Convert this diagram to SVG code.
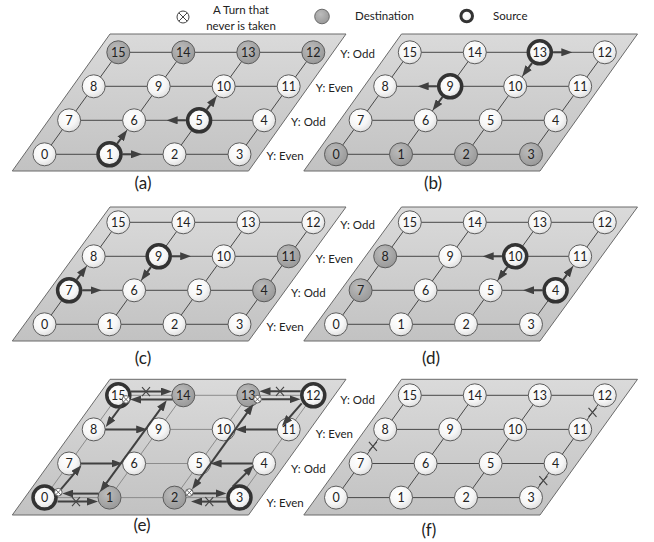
<svg xmlns="http://www.w3.org/2000/svg" width="654" height="542" viewBox="0 0 654 542">
<defs>
<style>
.pg{fill:url(#pgG);stroke:#6a6a6a;stroke-width:1}
.grid line{stroke:#484848;stroke-width:1}
.gridl line{stroke:#8c8c8c;stroke-width:1}
.nd circle{fill:url(#nG);stroke:#5c5c5c;stroke-width:1}
.dst circle{fill:url(#dG)}
.src circle{stroke:#333;stroke-width:3.5}
.nd text{font-family:Lato,"Liberation Sans",sans-serif;font-size:12.5px;fill:#222;text-anchor:middle}
.arr line{stroke:#404040;stroke-width:2;marker-end:url(#ah)}
.arr line.both{marker-start:url(#ah)}
.lbl{font-family:Lato,"Liberation Sans",sans-serif;font-size:11.5px;fill:#222}
.cap{font-family:Lato,"Liberation Sans",sans-serif;font-size:17px;fill:#222;text-anchor:middle}
.xm{stroke:#444;stroke-width:1.1;fill:none}
</style>
<linearGradient id="pgG" x1="0" y1="0" x2="0" y2="1"><stop offset="0" stop-color="#dadada"/><stop offset="1" stop-color="#c2c2c2"/></linearGradient>
<radialGradient id="nG" cx="0.4" cy="0.35" r="0.7"><stop offset="0" stop-color="#ffffff"/><stop offset="0.6" stop-color="#f6f6f6"/><stop offset="1" stop-color="#dcdcdc"/></radialGradient>
<radialGradient id="dG" cx="0.4" cy="0.35" r="0.7"><stop offset="0" stop-color="#bcbcbc"/><stop offset="1" stop-color="#979797"/></radialGradient>
<marker id="ah" viewBox="0 0 11 8" refX="5" refY="4" markerWidth="11" markerHeight="8" markerUnits="userSpaceOnUse" orient="auto-start-reverse"><path d="M0,0 L11,4 L0,8 z" fill="#404040"/></marker>
<g id="ot"><circle r="3.8" fill="#fff" stroke="#555" stroke-width="0.9"/><path d="M-2.7,-2.7L2.7,2.7M-2.7,2.7L2.7,-2.7" stroke="#555" stroke-width="0.9"/></g>
<path id="xmk" class="xm" d="M-4,-4.5L4,4.5M-4,4.5L4,-4.5"/>
</defs>
<rect width="654" height="542" fill="#fff"/>

<g id="legend">
<g id="legend-turn"><circle cx="183" cy="17" r="6" fill="#fff" stroke="#444"/><path d="M178.8,12.8L187.2,21.2M178.8,21.2L187.2,12.8" stroke="#444" stroke-width="1"/></g>
<text class="lbl" x="241" y="14" text-anchor="middle">A Turn that</text>
<text class="lbl" x="241" y="30" text-anchor="middle">never is taken</text>
<g id="legend-dest"><circle cx="322" cy="16.5" r="7.3" fill="url(#dG)" stroke="#6a6a6a"/></g>
<text class="lbl" x="355" y="20">Destination</text>
<g id="legend-src"><circle cx="466.7" cy="16" r="5.8" fill="url(#nG)" stroke="#333" stroke-width="3"/></g>
<text class="lbl" x="493" y="20">Source</text>
</g>

<!-- ============ PANEL A ============ -->
<g id="panel-a">
<polygon class="pg" points="12.3,171 248.5,171 346,34 110,34"/>
<g id="a-links" class="grid">
<line x1="44.5" y1="154.3" x2="239.5" y2="154.3"/><line x1="69.1" y1="120.3" x2="264.1" y2="120.3"/>
<line x1="93.7" y1="86.3" x2="288.7" y2="86.3"/><line x1="118.3" y1="52.3" x2="313.3" y2="52.3"/>
<line x1="44.5" y1="154.3" x2="118.3" y2="52.3"/><line x1="109.5" y1="154.3" x2="183.3" y2="52.3"/>
<line x1="174.5" y1="154.3" x2="248.3" y2="52.3"/><line x1="239.5" y1="154.3" x2="313.3" y2="52.3"/>
</g>
<g id="a-n0" class="nd"><circle cx="44.5" cy="154.3" r="11.5"/><text x="44.5" y="158.7">0</text></g>
<g id="a-n1" class="nd src"><circle cx="109.5" cy="154.3" r="11.5"/><text x="109.5" y="158.7">1</text></g>
<g id="a-n2" class="nd"><circle cx="174.5" cy="154.3" r="11.5"/><text x="174.5" y="158.7">2</text></g>
<g id="a-n3" class="nd"><circle cx="239.5" cy="154.3" r="11.5"/><text x="239.5" y="158.7">3</text></g>
<g id="a-n7" class="nd"><circle cx="69.1" cy="120.3" r="11.5"/><text x="69.1" y="124.7">7</text></g>
<g id="a-n6" class="nd"><circle cx="134.1" cy="120.3" r="11.5"/><text x="134.1" y="124.7">6</text></g>
<g id="a-n5" class="nd src"><circle cx="199.1" cy="120.3" r="11.5"/><text x="199.1" y="124.7">5</text></g>
<g id="a-n4" class="nd"><circle cx="264.1" cy="120.3" r="11.5"/><text x="264.1" y="124.7">4</text></g>
<g id="a-n8" class="nd"><circle cx="93.7" cy="86.3" r="11.5"/><text x="93.7" y="90.7">8</text></g>
<g id="a-n9" class="nd"><circle cx="158.7" cy="86.3" r="11.5"/><text x="158.7" y="90.7">9</text></g>
<g id="a-n10" class="nd"><circle cx="223.7" cy="86.3" r="11.5"/><text x="223.7" y="90.7">10</text></g>
<g id="a-n11" class="nd"><circle cx="288.7" cy="86.3" r="11.5"/><text x="288.7" y="90.7">11</text></g>
<g id="a-n15" class="nd dst"><circle cx="118.3" cy="52.3" r="11.5"/><text x="118.3" y="56.7">15</text></g>
<g id="a-n14" class="nd dst"><circle cx="183.3" cy="52.3" r="11.5"/><text x="183.3" y="56.7">14</text></g>
<g id="a-n13" class="nd dst"><circle cx="248.3" cy="52.3" r="11.5"/><text x="248.3" y="56.7">13</text></g>
<g id="a-n12" class="nd dst"><circle cx="313.3" cy="52.3" r="11.5"/><text x="313.3" y="56.7">12</text></g>
<g id="a-arrows" class="arr">
<line x1="122.8" y1="154.3" x2="136" y2="154.3"/>
<line x1="117.3" y1="143.5" x2="123.6" y2="134.9"/>
<line x1="185.8" y1="120.3" x2="172.6" y2="120.3"/>
<line x1="206.9" y1="109.5" x2="213.2" y2="100.9"/>
</g>
<text class="cap" x="143" y="188.5">(a)</text>
</g>

<!-- ============ PANEL B ============ -->
<g id="panel-b">
<polygon class="pg" points="303.8,171 540,171 637.5,34 401.5,34"/>
<g id="b-links" class="grid">
<line x1="336" y1="154.3" x2="531" y2="154.3"/><line x1="360.6" y1="120.3" x2="555.6" y2="120.3"/>
<line x1="385.2" y1="86.3" x2="580.2" y2="86.3"/><line x1="409.8" y1="52.3" x2="604.8" y2="52.3"/>
<line x1="336" y1="154.3" x2="409.8" y2="52.3"/><line x1="401" y1="154.3" x2="474.8" y2="52.3"/>
<line x1="466" y1="154.3" x2="539.8" y2="52.3"/><line x1="531" y1="154.3" x2="604.8" y2="52.3"/>
</g>
<g id="b-n0" class="nd dst"><circle cx="336" cy="154.3" r="11.5"/><text x="336" y="158.7">0</text></g>
<g id="b-n1" class="nd dst"><circle cx="401" cy="154.3" r="11.5"/><text x="401" y="158.7">1</text></g>
<g id="b-n2" class="nd dst"><circle cx="466" cy="154.3" r="11.5"/><text x="466" y="158.7">2</text></g>
<g id="b-n3" class="nd dst"><circle cx="531" cy="154.3" r="11.5"/><text x="531" y="158.7">3</text></g>
<g id="b-n7" class="nd"><circle cx="360.6" cy="120.3" r="11.5"/><text x="360.6" y="124.7">7</text></g>
<g id="b-n6" class="nd"><circle cx="425.6" cy="120.3" r="11.5"/><text x="425.6" y="124.7">6</text></g>
<g id="b-n5" class="nd"><circle cx="490.6" cy="120.3" r="11.5"/><text x="490.6" y="124.7">5</text></g>
<g id="b-n4" class="nd"><circle cx="555.6" cy="120.3" r="11.5"/><text x="555.6" y="124.7">4</text></g>
<g id="b-n8" class="nd"><circle cx="385.2" cy="86.3" r="11.5"/><text x="385.2" y="90.7">8</text></g>
<g id="b-n9" class="nd src"><circle cx="450.2" cy="86.3" r="11.5"/><text x="450.2" y="90.7">9</text></g>
<g id="b-n10" class="nd"><circle cx="515.2" cy="86.3" r="11.5"/><text x="515.2" y="90.7">10</text></g>
<g id="b-n11" class="nd"><circle cx="580.2" cy="86.3" r="11.5"/><text x="580.2" y="90.7">11</text></g>
<g id="b-n15" class="nd"><circle cx="409.8" cy="52.3" r="11.5"/><text x="409.8" y="56.7">15</text></g>
<g id="b-n14" class="nd"><circle cx="474.8" cy="52.3" r="11.5"/><text x="474.8" y="56.7">14</text></g>
<g id="b-n13" class="nd src"><circle cx="539.8" cy="52.3" r="11.5"/><text x="539.8" y="56.7">13</text></g>
<g id="b-n12" class="nd"><circle cx="604.8" cy="52.3" r="11.5"/><text x="604.8" y="56.7">12</text></g>
<g id="b-arrows" class="arr">
<line x1="553.1" y1="52.3" x2="566.3" y2="52.3"/>
<line x1="532" y1="63.1" x2="525.7" y2="71.7"/>
<line x1="436.9" y1="86.3" x2="423.7" y2="86.3"/>
<line x1="442.4" y1="97.1" x2="436.1" y2="105.7"/>
</g>
<text class="cap" x="433" y="188.5">(b)</text>
</g>

<!-- ============ PANEL C ============ -->
<g id="panel-c">
<polygon class="pg" points="12.3,341 248.5,341 346,207 110,207"/>
<g id="c-links" class="grid">
<line x1="44.5" y1="324.3" x2="239.5" y2="324.3"/><line x1="69.1" y1="290.3" x2="264.1" y2="290.3"/>
<line x1="93.7" y1="256.3" x2="288.7" y2="256.3"/><line x1="118.3" y1="222.3" x2="313.3" y2="222.3"/>
<line x1="44.5" y1="324.3" x2="118.3" y2="222.3"/><line x1="109.5" y1="324.3" x2="183.3" y2="222.3"/>
<line x1="174.5" y1="324.3" x2="248.3" y2="222.3"/><line x1="239.5" y1="324.3" x2="313.3" y2="222.3"/>
</g>
<g id="c-n0" class="nd"><circle cx="44.5" cy="324.3" r="11.5"/><text x="44.5" y="328.7">0</text></g>
<g id="c-n1" class="nd"><circle cx="109.5" cy="324.3" r="11.5"/><text x="109.5" y="328.7">1</text></g>
<g id="c-n2" class="nd"><circle cx="174.5" cy="324.3" r="11.5"/><text x="174.5" y="328.7">2</text></g>
<g id="c-n3" class="nd"><circle cx="239.5" cy="324.3" r="11.5"/><text x="239.5" y="328.7">3</text></g>
<g id="c-n7" class="nd src"><circle cx="69.1" cy="290.3" r="11.5"/><text x="69.1" y="294.7">7</text></g>
<g id="c-n6" class="nd"><circle cx="134.1" cy="290.3" r="11.5"/><text x="134.1" y="294.7">6</text></g>
<g id="c-n5" class="nd"><circle cx="199.1" cy="290.3" r="11.5"/><text x="199.1" y="294.7">5</text></g>
<g id="c-n4" class="nd dst"><circle cx="264.1" cy="290.3" r="11.5"/><text x="264.1" y="294.7">4</text></g>
<g id="c-n8" class="nd"><circle cx="93.7" cy="256.3" r="11.5"/><text x="93.7" y="260.7">8</text></g>
<g id="c-n9" class="nd src"><circle cx="158.7" cy="256.3" r="11.5"/><text x="158.7" y="260.7">9</text></g>
<g id="c-n10" class="nd"><circle cx="223.7" cy="256.3" r="11.5"/><text x="223.7" y="260.7">10</text></g>
<g id="c-n11" class="nd dst"><circle cx="288.7" cy="256.3" r="11.5"/><text x="288.7" y="260.7">11</text></g>
<g id="c-n15" class="nd"><circle cx="118.3" cy="222.3" r="11.5"/><text x="118.3" y="226.7">15</text></g>
<g id="c-n14" class="nd"><circle cx="183.3" cy="222.3" r="11.5"/><text x="183.3" y="226.7">14</text></g>
<g id="c-n13" class="nd"><circle cx="248.3" cy="222.3" r="11.5"/><text x="248.3" y="226.7">13</text></g>
<g id="c-n12" class="nd"><circle cx="313.3" cy="222.3" r="11.5"/><text x="313.3" y="226.7">12</text></g>
<g id="c-arrows" class="arr">
<line x1="76.9" y1="279.5" x2="83.2" y2="270.9"/>
<line x1="82.4" y1="290.3" x2="95.6" y2="290.3"/>
<line x1="172" y1="256.3" x2="185.2" y2="256.3"/>
<line x1="150.9" y1="267.1" x2="144.6" y2="275.7"/>
</g>
<text class="cap" x="143" y="363.5">(c)</text>
</g>

<!-- ============ PANEL D ============ -->
<g id="panel-d">
<polygon class="pg" points="303.8,341 540,341 637.5,207 401.5,207"/>
<g id="d-links" class="grid">
<line x1="336" y1="324.3" x2="531" y2="324.3"/><line x1="360.6" y1="290.3" x2="555.6" y2="290.3"/>
<line x1="385.2" y1="256.3" x2="580.2" y2="256.3"/><line x1="409.8" y1="222.3" x2="604.8" y2="222.3"/>
<line x1="336" y1="324.3" x2="409.8" y2="222.3"/><line x1="401" y1="324.3" x2="474.8" y2="222.3"/>
<line x1="466" y1="324.3" x2="539.8" y2="222.3"/><line x1="531" y1="324.3" x2="604.8" y2="222.3"/>
</g>
<g id="d-n0" class="nd"><circle cx="336" cy="324.3" r="11.5"/><text x="336" y="328.7">0</text></g>
<g id="d-n1" class="nd"><circle cx="401" cy="324.3" r="11.5"/><text x="401" y="328.7">1</text></g>
<g id="d-n2" class="nd"><circle cx="466" cy="324.3" r="11.5"/><text x="466" y="328.7">2</text></g>
<g id="d-n3" class="nd"><circle cx="531" cy="324.3" r="11.5"/><text x="531" y="328.7">3</text></g>
<g id="d-n7" class="nd dst"><circle cx="360.6" cy="290.3" r="11.5"/><text x="360.6" y="294.7">7</text></g>
<g id="d-n6" class="nd"><circle cx="425.6" cy="290.3" r="11.5"/><text x="425.6" y="294.7">6</text></g>
<g id="d-n5" class="nd"><circle cx="490.6" cy="290.3" r="11.5"/><text x="490.6" y="294.7">5</text></g>
<g id="d-n4" class="nd src"><circle cx="555.6" cy="290.3" r="11.5"/><text x="555.6" y="294.7">4</text></g>
<g id="d-n8" class="nd dst"><circle cx="385.2" cy="256.3" r="11.5"/><text x="385.2" y="260.7">8</text></g>
<g id="d-n9" class="nd"><circle cx="450.2" cy="256.3" r="11.5"/><text x="450.2" y="260.7">9</text></g>
<g id="d-n10" class="nd src"><circle cx="515.2" cy="256.3" r="11.5"/><text x="515.2" y="260.7">10</text></g>
<g id="d-n11" class="nd"><circle cx="580.2" cy="256.3" r="11.5"/><text x="580.2" y="260.7">11</text></g>
<g id="d-n15" class="nd"><circle cx="409.8" cy="222.3" r="11.5"/><text x="409.8" y="226.7">15</text></g>
<g id="d-n14" class="nd"><circle cx="474.8" cy="222.3" r="11.5"/><text x="474.8" y="226.7">14</text></g>
<g id="d-n13" class="nd"><circle cx="539.8" cy="222.3" r="11.5"/><text x="539.8" y="226.7">13</text></g>
<g id="d-n12" class="nd"><circle cx="604.8" cy="222.3" r="11.5"/><text x="604.8" y="226.7">12</text></g>
<g id="d-arrows" class="arr">
<line x1="501.9" y1="256.3" x2="488.7" y2="256.3"/>
<line x1="507.4" y1="267.1" x2="501.1" y2="275.7"/>
<line x1="542.3" y1="290.3" x2="529.1" y2="290.3"/>
<line x1="563.4" y1="279.5" x2="569.7" y2="270.9"/>
</g>
<text class="cap" x="431" y="363.5">(d)</text>
</g>

<!-- ============ PANEL E ============ -->
<g id="panel-e">
<polygon class="pg" points="12.3,515 248.5,515 346,379.3 110,379.3"/>
<g id="e-links" class="gridl">
<line x1="44.5" y1="497.6" x2="239.5" y2="497.6"/><line x1="69.1" y1="463.5" x2="264.1" y2="463.5"/>
<line x1="93.7" y1="429.4" x2="288.7" y2="429.4"/><line x1="118.3" y1="395.3" x2="313.3" y2="395.3"/>
<line x1="44.5" y1="497.6" x2="118.3" y2="395.3"/><line x1="109.5" y1="497.6" x2="183.3" y2="395.3"/>
<line x1="174.5" y1="497.6" x2="248.3" y2="395.3"/><line x1="239.5" y1="497.6" x2="313.3" y2="395.3"/>
</g>
<g id="e-n0" class="nd src"><circle cx="44.5" cy="497.6" r="11.5"/><text x="44.5" y="502">0</text></g>
<g id="e-n1" class="nd dst"><circle cx="109.5" cy="497.6" r="11.5"/><text x="109.5" y="502">1</text></g>
<g id="e-n2" class="nd dst"><circle cx="174.5" cy="497.6" r="11.5"/><text x="174.5" y="502">2</text></g>
<g id="e-n3" class="nd src"><circle cx="239.5" cy="497.6" r="11.5"/><text x="239.5" y="502">3</text></g>
<g id="e-n7" class="nd"><circle cx="69.1" cy="463.5" r="11.5"/><text x="69.1" y="467.9">7</text></g>
<g id="e-n6" class="nd"><circle cx="134.1" cy="463.5" r="11.5"/><text x="134.1" y="467.9">6</text></g>
<g id="e-n5" class="nd"><circle cx="199.1" cy="463.5" r="11.5"/><text x="199.1" y="467.9">5</text></g>
<g id="e-n4" class="nd"><circle cx="264.1" cy="463.5" r="11.5"/><text x="264.1" y="467.9">4</text></g>
<g id="e-n8" class="nd"><circle cx="93.7" cy="429.4" r="11.5"/><text x="93.7" y="433.8">8</text></g>
<g id="e-n9" class="nd"><circle cx="158.7" cy="429.4" r="11.5"/><text x="158.7" y="433.8">9</text></g>
<g id="e-n10" class="nd"><circle cx="223.7" cy="429.4" r="11.5"/><text x="223.7" y="433.8">10</text></g>
<g id="e-n11" class="nd"><circle cx="288.7" cy="429.4" r="11.5"/><text x="288.7" y="433.8">11</text></g>
<g id="e-n15" class="nd src"><circle cx="118.3" cy="395.3" r="11.5"/><text x="118.3" y="399.7">15</text></g>
<g id="e-n14" class="nd dst"><circle cx="183.3" cy="395.3" r="11.5"/><text x="183.3" y="399.7">14</text></g>
<g id="e-n13" class="nd dst"><circle cx="248.3" cy="395.3" r="11.5"/><text x="248.3" y="399.7">13</text></g>
<g id="e-n12" class="nd src"><circle cx="313.3" cy="395.3" r="11.5"/><text x="313.3" y="399.7">12</text></g>
<g id="e-arrows" class="arr">
<line x1="98.7" y1="493.6" x2="68.3" y2="493.6"/>
<line x1="57.5" y1="501.6" x2="92" y2="501.6"/>
<line x1="60.8" y1="489.3" x2="77.6" y2="469.7"/>
<line x1="80.6" y1="463.5" x2="116.6" y2="463.5"/>
<line class="both" x1="103.5" y1="487.15" x2="163.2" y2="405.15"/>
<line x1="123.8" y1="402.5" x2="109.3" y2="422.2"/>
<line x1="105.2" y1="429.4" x2="141.2" y2="429.4"/>
<line x1="131" y1="391.6" x2="166" y2="391.6"/>
<line x1="172.6" y1="399.6" x2="136" y2="399.6"/>
<line x1="193.1" y1="493.4" x2="220.5" y2="493.4"/>
<line x1="226.9" y1="501.6" x2="197" y2="501.6"/>
<line x1="232.6" y1="486.8" x2="249.6" y2="469.6"/>
<line x1="252.6" y1="463.5" x2="216.6" y2="463.5"/>
<line class="both" x1="195.5" y1="484.6" x2="250" y2="408.9"/>
<line x1="300.7" y1="391.3" x2="265.5" y2="391.3"/>
<line x1="261.3" y1="399.3" x2="294.5" y2="399.3"/>
<line x1="301.7" y1="403.3" x2="285.9" y2="421.5"/>
<line x1="277.2" y1="429.4" x2="241.2" y2="429.4"/>
</g>
<g id="e-blocked">
<use href="#xmk" x="76" y="501.6"/>
<use href="#xmk" x="209.3" y="501.6"/>
<use href="#xmk" x="146" y="391.6"/>
<use href="#xmk" x="280" y="391.3"/>
</g>
<g id="e-turns">
<use href="#ot" x="58.3" y="492.2"/>
<use href="#ot" x="126" y="399.4"/>
<use href="#ot" x="189.3" y="492.6"/>
<use href="#ot" x="257.5" y="399.2"/>
</g>
<text class="cap" x="142" y="531">(e)</text>
</g>

<!-- ============ PANEL F ============ -->
<g id="panel-f">
<polygon class="pg" points="303.8,515 540,515 637.5,379.3 401.5,379.3"/>
<g id="f-links" class="grid">
<line x1="336" y1="497.6" x2="531" y2="497.6"/><line x1="360.6" y1="463.5" x2="555.6" y2="463.5"/>
<line x1="385.2" y1="429.4" x2="580.2" y2="429.4"/><line x1="409.8" y1="395.3" x2="604.8" y2="395.3"/>
<line x1="336" y1="497.6" x2="409.8" y2="395.3"/><line x1="401" y1="497.6" x2="474.8" y2="395.3"/>
<line x1="466" y1="497.6" x2="539.8" y2="395.3"/><line x1="531" y1="497.6" x2="604.8" y2="395.3"/>
</g>
<g id="f-n0" class="nd"><circle cx="336" cy="497.6" r="11.5"/><text x="336" y="502">0</text></g>
<g id="f-n1" class="nd"><circle cx="401" cy="497.6" r="11.5"/><text x="401" y="502">1</text></g>
<g id="f-n2" class="nd"><circle cx="466" cy="497.6" r="11.5"/><text x="466" y="502">2</text></g>
<g id="f-n3" class="nd"><circle cx="531" cy="497.6" r="11.5"/><text x="531" y="502">3</text></g>
<g id="f-n7" class="nd"><circle cx="360.6" cy="463.5" r="11.5"/><text x="360.6" y="467.9">7</text></g>
<g id="f-n6" class="nd"><circle cx="425.6" cy="463.5" r="11.5"/><text x="425.6" y="467.9">6</text></g>
<g id="f-n5" class="nd"><circle cx="490.6" cy="463.5" r="11.5"/><text x="490.6" y="467.9">5</text></g>
<g id="f-n4" class="nd"><circle cx="555.6" cy="463.5" r="11.5"/><text x="555.6" y="467.9">4</text></g>
<g id="f-n8" class="nd"><circle cx="385.2" cy="429.4" r="11.5"/><text x="385.2" y="433.8">8</text></g>
<g id="f-n9" class="nd"><circle cx="450.2" cy="429.4" r="11.5"/><text x="450.2" y="433.8">9</text></g>
<g id="f-n10" class="nd"><circle cx="515.2" cy="429.4" r="11.5"/><text x="515.2" y="433.8">10</text></g>
<g id="f-n11" class="nd"><circle cx="580.2" cy="429.4" r="11.5"/><text x="580.2" y="433.8">11</text></g>
<g id="f-n15" class="nd"><circle cx="409.8" cy="395.3" r="11.5"/><text x="409.8" y="399.7">15</text></g>
<g id="f-n14" class="nd"><circle cx="474.8" cy="395.3" r="11.5"/><text x="474.8" y="399.7">14</text></g>
<g id="f-n13" class="nd"><circle cx="539.8" cy="395.3" r="11.5"/><text x="539.8" y="399.7">13</text></g>
<g id="f-n12" class="nd"><circle cx="604.8" cy="395.3" r="11.5"/><text x="604.8" y="399.7">12</text></g>
<g id="f-blocked">
<use href="#xmk" x="372.9" y="446.45"/>
<use href="#xmk" x="543.3" y="480.55"/>
<use href="#xmk" x="592.5" y="412.35"/>
</g>
<text class="cap" x="429" y="536">(f)</text>
</g>

<g id="row-labels" class="lbl">
<text x="340.3" y="58.3">Y: Odd</text>
<text x="315.7" y="92.3">Y: Even</text>
<text x="291.1" y="126.3">Y: Odd</text>
<text x="266.5" y="160.3">Y: Even</text>
<text x="340.3" y="229.3">Y: Odd</text>
<text x="315.7" y="263.3">Y: Even</text>
<text x="291.1" y="297.3">Y: Odd</text>
<text x="266.5" y="331.3">Y: Even</text>
<text x="340.3" y="404.3">Y: Odd</text>
<text x="315.7" y="438.4">Y: Even</text>
<text x="291.1" y="472.5">Y: Odd</text>
<text x="266.5" y="506.6">Y: Even</text>
</g>
</svg>
